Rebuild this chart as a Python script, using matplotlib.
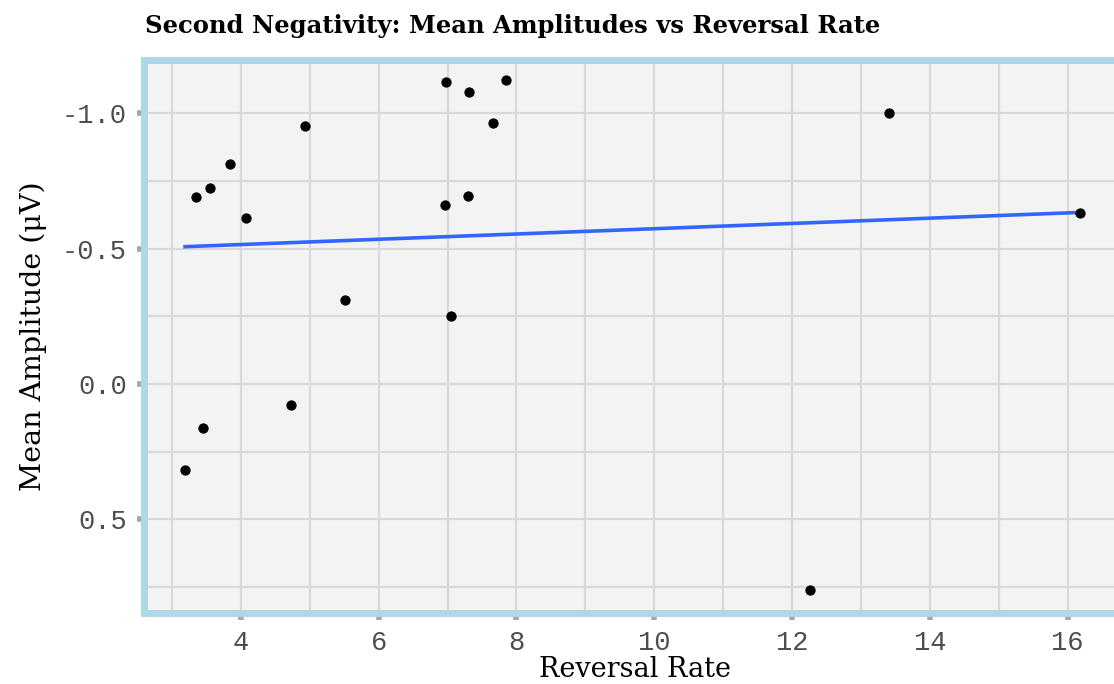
import numpy as np
import matplotlib
matplotlib.use("Agg")
import matplotlib.pyplot as plt

# values
reversal_rate = [3.19, 3.45, 3.35, 3.55, 3.84, 4.07, 4.73, 4.93, 5.51, 6.98,
                 6.96, 7.05, 7.31, 7.29, 7.66, 7.85, 12.26, 13.40, 16.18]
mean_amp = [0.318, 0.163, -0.691, -0.724, -0.813, -0.613, 0.078, -0.953, -0.310, -1.116,
            -0.661, -0.251, -1.079, -0.694, -0.964, -1.123, 0.761, -1.000, -0.632]
x_ticks = [4, 6, 8, 10, 12, 14, 16]
y_ticks = [-1.0, -0.5, 0.0, 0.5]
y_tick_labels = ["-1.0", "-0.5", "0.0", "0.5"]

x = np.array(reversal_rate)
y = np.array(mean_amp)
slope, intercept = np.polyfit(x, y, 1)
xs = np.array([x.min(), x.max()])

fig = plt.figure(figsize=(11.14, 6.84), dpi=100)
ax = fig.add_axes([0.129, 0.104, 0.882, 0.808])
ax.set_facecolor("#f3f3f3")

ax.plot(xs, slope * xs + intercept, color="#3366FF", lw=2.6, zorder=3)
ax.scatter(x, y, s=55, color="black", zorder=4, linewidths=0)

ax.set_xlim(2.59, 16.85)
ax.set_ylim(0.846, -1.196)

ax.set_xticks(x_ticks)
ax.set_xticks(np.arange(3, 17, 2), minor=True)
ax.set_yticks(y_ticks)
ax.set_yticklabels(y_tick_labels)
ax.set_yticks([-0.75, -0.25, 0.25, 0.75], minor=True)
ax.grid(True, which="both", color="#d9d9d9", lw=1.6)
ax.set_axisbelow(True)

ax.tick_params(which="major", length=5, width=4, color="#a6a6a6", pad=7,
               labelsize=19.5, labelcolor="#4d4d4d")
ax.tick_params(which="minor", length=0)
for lab in ax.get_xticklabels() + ax.get_yticklabels():
    lab.set_family("Liberation Mono")

for sp in ax.spines.values():
    sp.set_color("#add8e6")
    sp.set_linewidth(5)

ax.set_xlabel("Reversal Rate", family="DejaVu Serif", fontsize=19.5, labelpad=0)
ax.set_ylabel("Mean Amplitude (\u03bcV)", family="DejaVu Serif", fontsize=20.5, labelpad=11)
fig.text(0.130, 0.952, "Second Negativity: Mean Amplitudes vs Reversal Rate",
         family="DejaVu Serif", fontweight="bold", fontsize=17.5, ha="left", va="baseline")

fig.savefig("out.png", dpi=100)
